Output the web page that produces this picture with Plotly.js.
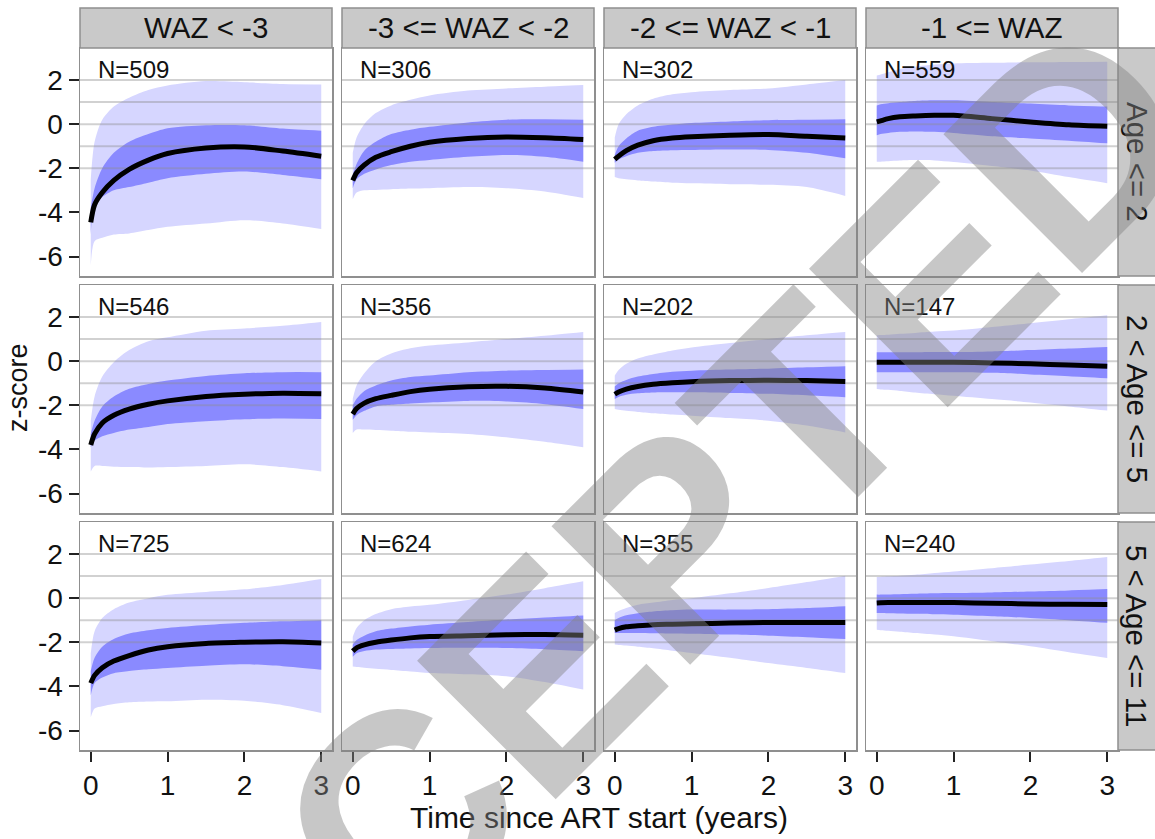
<!DOCTYPE html>
<html>
<head>
<meta charset="utf-8">
<script src="https://cdn.plot.ly/plotly-3.0.1.min.js"></script>
<style>html,body{margin:0;padding:0;background:#fff;}#chart{width:1155px;height:839px;}</style>
</head>
<body>
<div id="chart"></div>
<script>
// ---- data ----
const tGrid = [0, 0.05, 0.15, 0.3, 0.5, 0.75, 1, 1.5, 2, 2.5, 3];
const wazGroups = ['WAZ < -3', '-3 <= WAZ < -2', '-2 <= WAZ < -1', '-1 <= WAZ'];
const ageGroups = ['Age <= 2', '2 < Age <= 5', '5 < Age <= 11'];
const nCounts = [509, 306, 302, 559, 546, 356, 202, 147, 725, 624, 355, 240];
const refLines = [2, 1, 0, -1, -2];
const xTicks = [0, 1, 2, 3];
const yTicks = [-6, -4, -2, 0, 2];

// panels in reading order: Age row 1 (cols WAZ 1..4), row 2, row 3
const median = [
  [-4.45, -3.65, -3.1, -2.55, -2.05, -1.63, -1.33, -1.08, -1.03, -1.22, -1.45],
  [-2.55, -2.2, -1.85, -1.5, -1.25, -1.0, -0.82, -0.65, -0.58, -0.62, -0.7],
  [-1.6, -1.45, -1.2, -0.95, -0.75, -0.63, -0.57, -0.5, -0.47, -0.55, -0.63],
  [0.1, 0.15, 0.25, 0.33, 0.37, 0.4, 0.4, 0.25, 0.1, -0.03, -0.1],
  [-3.8, -3.3, -2.8, -2.45, -2.17, -1.95, -1.8, -1.6, -1.5, -1.45, -1.48],
  [-2.4, -2.15, -1.9, -1.7, -1.55, -1.38, -1.27, -1.16, -1.14, -1.22, -1.4],
  [-1.5, -1.4, -1.27, -1.15, -1.05, -0.98, -0.93, -0.88, -0.87, -0.88, -0.92],
  [-0.05, -0.05, -0.05, -0.05, -0.05, -0.05, -0.05, -0.08, -0.12, -0.18, -0.23],
  [-3.85, -3.5, -3.15, -2.85, -2.6, -2.35, -2.2, -2.05, -2.0, -1.98, -2.03],
  [-2.4, -2.25, -2.12, -2.0, -1.9, -1.8, -1.74, -1.7, -1.66, -1.65, -1.68],
  [-1.45, -1.38, -1.3, -1.25, -1.2, -1.18, -1.16, -1.13, -1.1, -1.1, -1.1],
  [-0.22, -0.21, -0.2, -0.2, -0.2, -0.2, -0.2, -0.23, -0.26, -0.28, -0.29]
];
const innerHi = [
  [-3.8, -2.9, -2.0, -1.3, -0.8, -0.45, -0.19, -0.05, -0.05, -0.2, -0.3],
  [-2.3, -1.8, -1.2, -0.8, -0.45, -0.25, -0.12, 0.08, 0.2, 0.22, 0.2],
  [-1.4, -1.0, -0.65, -0.3, -0.12, -0.02, 0.05, 0.12, 0.18, 0.2, 0.22],
  [0.85, 0.9, 0.95, 1.0, 1.05, 1.08, 1.08, 1.0, 0.93, 0.85, 0.8],
  [-3.3, -2.7, -2.05, -1.6, -1.25, -1.03, -0.88, -0.67, -0.55, -0.5, -0.5],
  [-2.0, -1.7, -1.35, -1.1, -0.88, -0.72, -0.65, -0.5, -0.43, -0.4, -0.38],
  [-1.15, -1.0, -0.85, -0.7, -0.58, -0.48, -0.43, -0.38, -0.34, -0.28, -0.23],
  [0.4, 0.4, 0.4, 0.4, 0.4, 0.41, 0.41, 0.44, 0.5, 0.57, 0.64],
  [-3.3, -2.7, -2.2, -1.85, -1.6, -1.45, -1.35, -1.22, -1.12, -1.05, -1.0],
  [-2.1, -1.9, -1.7, -1.5, -1.38, -1.28, -1.2, -1.08, -0.97, -0.88, -0.79],
  [-1.0, -0.9, -0.78, -0.68, -0.6, -0.55, -0.52, -0.52, -0.5, -0.45, -0.37],
  [0.16, 0.16, 0.17, 0.18, 0.2, 0.22, 0.23, 0.26, 0.3, 0.35, 0.41]
];
const innerLo = [
  [-5.0, -3.6, -3.3, -3.0, -2.85, -2.65, -2.45, -2.25, -2.15, -2.3, -2.5],
  [-2.9, -2.5, -2.25, -2.05, -1.85, -1.7, -1.62, -1.48, -1.4, -1.48, -1.7],
  [-1.75, -1.6, -1.45, -1.3, -1.22, -1.18, -1.17, -1.15, -1.17, -1.3, -1.55],
  [-0.5, -0.45, -0.4, -0.35, -0.33, -0.35, -0.4, -0.55, -0.65, -0.75, -0.87],
  [-3.9, -3.6, -3.4, -3.25, -3.1, -2.98, -2.85, -2.72, -2.63, -2.6, -2.62],
  [-2.65, -2.45, -2.25, -2.05, -1.98, -1.92, -1.87, -1.8, -1.83, -1.95, -2.17],
  [-1.72, -1.62, -1.52, -1.46, -1.42, -1.41, -1.41, -1.44, -1.48, -1.55, -1.64],
  [-0.5, -0.5, -0.5, -0.5, -0.5, -0.5, -0.5, -0.53, -0.6, -0.68, -0.77],
  [-4.4, -3.85, -3.6, -3.4, -3.3, -3.22, -3.16, -3.06, -3.0, -3.08, -3.24],
  [-2.65, -2.5, -2.4, -2.33, -2.3, -2.28, -2.26, -2.25, -2.26, -2.32, -2.41],
  [-1.58, -1.58, -1.58, -1.58, -1.59, -1.6, -1.61, -1.65, -1.7, -1.77, -1.85],
  [-0.67, -0.67, -0.68, -0.69, -0.71, -0.73, -0.75, -0.82, -0.9, -1.0, -1.12]
];
const outerHi = [
  [-2.5, -0.8, 0.2, 0.8, 1.2, 1.55, 1.75, 1.95, 1.9, 1.82, 1.8],
  [-1.3, -0.6, 0.0, 0.5, 0.85, 1.1, 1.3, 1.52, 1.62, 1.7, 1.77],
  [-0.6, 0.0, 0.45, 0.85, 1.15, 1.35, 1.45, 1.55, 1.62, 1.8, 2.0],
  [2.2, 2.25, 2.35, 2.5, 2.6, 2.7, 2.75, 2.78, 2.8, 2.82, 2.83],
  [-2.7, -1.6, -0.7, -0.05, 0.5, 0.9, 1.08, 1.38, 1.48, 1.6, 1.77],
  [-1.7, -1.1, -0.55, 0.0, 0.35, 0.58, 0.71, 0.85, 1.0, 1.15, 1.32],
  [-0.65, -0.4, -0.12, 0.12, 0.3, 0.48, 0.62, 0.82, 1.0, 1.17, 1.32],
  [1.17, 1.18, 1.2, 1.24, 1.28, 1.34, 1.39, 1.55, 1.72, 1.9, 2.08],
  [-2.5, -1.5, -0.9, -0.5, -0.2, 0.0, 0.15, 0.28, 0.4, 0.6, 0.87],
  [-1.75, -1.35, -1.0, -0.72, -0.5, -0.38, -0.3, -0.08, 0.16, 0.45, 0.76],
  [-0.67, -0.58, -0.45, -0.3, -0.2, -0.08, 0.0, 0.22, 0.46, 0.73, 1.02],
  [0.96, 0.97, 0.99, 1.02, 1.06, 1.14, 1.21, 1.36, 1.52, 1.68, 1.86]
];
const outerLo = [
  [-6.4, -5.3, -5.15, -5.0, -4.95, -4.8, -4.65, -4.5, -4.35, -4.5, -4.75],
  [-3.4, -3.1, -3.0, -2.98, -2.95, -2.92, -2.9, -2.85, -2.9, -3.05, -3.35],
  [-2.4, -2.45, -2.5, -2.55, -2.6, -2.65, -2.68, -2.72, -2.75, -2.85, -3.25],
  [-1.7, -1.7, -1.68, -1.65, -1.63, -1.65, -1.72, -1.9, -2.1, -2.4, -2.68],
  [-5.0, -4.75, -4.75, -4.78, -4.8, -4.82, -4.8, -4.75, -4.67, -4.8, -5.0],
  [-3.25, -3.1, -3.1, -3.12, -3.15, -3.2, -3.23, -3.3, -3.45, -3.65, -3.9],
  [-2.17, -2.2, -2.25, -2.3, -2.36, -2.42, -2.47, -2.58, -2.7, -2.92, -3.23],
  [-1.26, -1.28, -1.3, -1.35, -1.42, -1.5, -1.57, -1.72, -1.87, -2.05, -2.24],
  [-5.4, -5.0, -4.9, -4.8, -4.72, -4.68, -4.67, -4.6, -4.65, -4.85, -5.2],
  [-3.1, -3.12, -3.15, -3.2, -3.25, -3.32, -3.39, -3.45, -3.54, -3.8, -4.14],
  [-2.1, -2.12, -2.15, -2.2, -2.27, -2.38, -2.48, -2.7, -2.94, -3.16, -3.39],
  [-1.43, -1.45, -1.48, -1.52, -1.58, -1.65, -1.73, -1.95, -2.18, -2.45, -2.71]
];

// ---- layout config ----
const W = 1155, H = 839;
const colPx = [[80, 332], [342, 594], [604, 856], [866, 1118]];
const rowPx = [[48, 276], [285, 513], [522, 750]];
const xRange = [-0.14, 3.14];
const yRange = [-6.88, 3.45];
const FONT = 'Liberation Sans, Arial, sans-serif';
const lightBand = '#d6d6ff';
const darkBand = '#8a8aff';
const borderCol = '#8f8f8f';
const stripFill = '#c9c9c9';

const traces = [];
const layout = {
  width: W, height: H,
  margin: {l: 0, r: 0, t: 0, b: 0},
  paper_bgcolor: '#ffffff', plot_bgcolor: '#ffffff',
  showlegend: false,
  font: {family: FONT, color: '#111'},
  shapes: [], annotations: []
};

for (let r = 0; r < 3; r++) {
  for (let c = 0; c < 4; c++) {
    const i = r * 4 + c;
    const sfx = i === 0 ? '' : String(i + 1);
    const xa = 'x' + sfx, ya = 'y' + sfx;
    const common = {xaxis: xa, yaxis: ya, type: 'scatter', mode: 'lines', hoverinfo: 'skip'};
    traces.push(Object.assign({}, common, {x: tGrid, y: outerLo[i], line: {width: 0, shape: 'spline', smoothing: 0.8, color: lightBand}}));
    traces.push(Object.assign({}, common, {x: tGrid, y: outerHi[i], fill: 'tonexty', fillcolor: lightBand, line: {width: 0, shape: 'spline', smoothing: 0.8, color: lightBand}}));
    traces.push(Object.assign({}, common, {x: tGrid, y: innerLo[i], line: {width: 0, shape: 'spline', smoothing: 0.8, color: darkBand}}));
    traces.push(Object.assign({}, common, {x: tGrid, y: innerHi[i], fill: 'tonexty', fillcolor: darkBand, line: {width: 0, shape: 'spline', smoothing: 0.8, color: darkBand}}));
    // reference lines
    const rx = [], ry = [];
    refLines.forEach(v => { rx.push(xRange[0], xRange[1], null); ry.push(v, v, null); });
    traces.push(Object.assign({}, common, {x: rx, y: ry, line: {width: 2, color: 'rgba(140,140,140,0.4)'}}));
    traces.push(Object.assign({}, common, {x: tGrid, y: median[i], line: {width: 5, color: '#000', shape: 'spline', smoothing: 0.8}}));

    const bottom = r === 2, left = c === 0;
    layout['xaxis' + sfx] = {
      domain: [colPx[c][0] / W, colPx[c][1] / W], anchor: ya, range: xRange,
      showgrid: false, zeroline: false, showline: true, mirror: true,
      linecolor: borderCol, linewidth: 1.5,
      tickvals: xTicks, ticktext: xTicks.map(String),
      ticks: bottom ? 'outside' : '', ticklen: 10, tickwidth: 2, tickcolor: '#222',
      showticklabels: bottom, tickfont: {size: 28, family: FONT, color: '#111'}
    };
    layout['yaxis' + sfx] = {
      domain: [1 - rowPx[r][1] / H, 1 - rowPx[r][0] / H], anchor: xa, range: yRange,
      showgrid: false, zeroline: false, showline: true, mirror: true,
      linecolor: borderCol, linewidth: 1.5,
      tickvals: yTicks, ticktext: yTicks.map(String),
      ticks: left ? 'outside' : '', ticklen: 10, tickwidth: 2, tickcolor: '#222',
      showticklabels: left, tickfont: {size: 28, family: FONT, color: '#111'}
    };
    layout.annotations.push({
      xref: xa + ' domain', yref: ya + ' domain', x: 0.062, y: 0.905,
      xanchor: 'left', yanchor: 'middle', showarrow: false,
      text: 'N=' + nCounts[i], font: {size: 24, family: FONT, color: '#111'}
    });
  }
}

// strips (top: WAZ groups, right: age groups)
wazGroups.forEach((g, c) => {
  layout.shapes.push({type: 'rect', xref: 'paper', yref: 'paper',
    x0: colPx[c][0] / W, x1: colPx[c][1] / W, y0: 1 - 48 / H, y1: 1 - 8 / H,
    fillcolor: stripFill, line: {color: borderCol, width: 1.5}});
  layout.annotations.push({xref: 'paper', yref: 'paper',
    x: (colPx[c][0] + colPx[c][1]) / 2 / W, y: 1 - 28 / H, xanchor: 'center', yanchor: 'middle',
    showarrow: false, text: g, font: {size: 29.5, family: FONT, color: '#111'}});
});
ageGroups.forEach((g, r) => {
  layout.shapes.push({type: 'rect', xref: 'paper', yref: 'paper',
    x0: 1118 / W, x1: 1160 / W, y0: 1 - rowPx[r][1] / H, y1: 1 - rowPx[r][0] / H,
    fillcolor: stripFill, line: {color: borderCol, width: 1.5}});
  layout.annotations.push({xref: 'paper', yref: 'paper',
    x: 1137 / W, y: 1 - (rowPx[r][0] + rowPx[r][1]) / 2 / H, xanchor: 'center', yanchor: 'middle',
    showarrow: false, textangle: 90, text: g, font: {size: 29.5, family: FONT, color: '#111'}});
});

// axis titles
layout.annotations.push({xref: 'paper', yref: 'paper', x: 599 / W, y: 1 - 817 / H,
  xanchor: 'center', yanchor: 'middle', showarrow: false,
  text: 'Time since ART start (years)', font: {size: 30, family: FONT, color: '#111'}});
layout.annotations.push({xref: 'paper', yref: 'paper', x: 18 / W, y: 1 - 388 / H,
  xanchor: 'center', yanchor: 'middle', showarrow: false, textangle: -90,
  text: 'z-score', font: {size: 27, family: FONT, color: '#111'}});

// watermark
layout.annotations.push({xref: 'paper', yref: 'paper', x: 590 / W, y: 1 - 625 / H,
  xanchor: 'center', yanchor: 'middle', showarrow: false, textangle: -45,
  text: '<b>ACCEPTED</b>', font: {size: 285, family: FONT, color: 'rgba(130,130,130,0.45)'}});

Plotly.newPlot('chart', traces, layout, {staticPlot: true, displayModeBar: false});
</script>
</body>
</html>
